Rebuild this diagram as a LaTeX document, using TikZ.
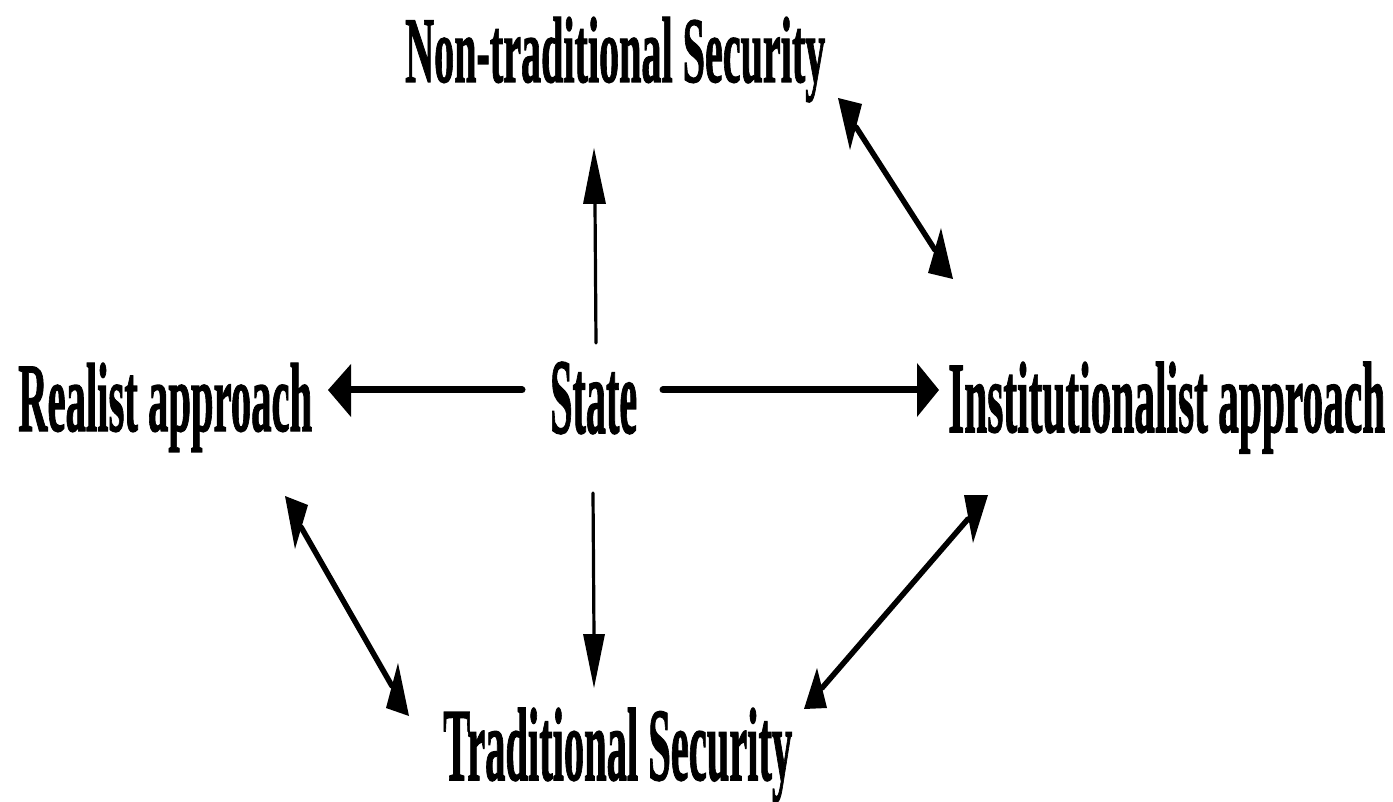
\documentclass[tikz,border=0pt]{standalone}
\usepackage{fontspec}
\setmainfont{Liberation Serif}
\newfontfamily\heavyserif[FakeBold=1.5]{Liberation Serif Bold}
\usepackage{graphicx}
\begin{document}
\begin{tikzpicture}[x=1pt,y=-1pt,
  lbl/.style={anchor=base west,inner sep=0pt,font=\heavyserif},
  thinline/.style={line width=3.2pt,line cap=round},
  thickline/.style={line width=7pt,line cap=round},
  diagline/.style={line width=5.5pt,line cap=round},
  head/.style={fill=black,draw=none}]
\useasboundingbox (0,0) rectangle (1393,802);
% labels
\node[lbl] (nts) at (405,82) {\resizebox{420pt}{65pt}{Non-traditional Security}};
\node[lbl] (real) at (18,431) {\resizebox{294pt}{68pt}{Realist approach}};
\node[lbl] (state) at (550,433) {\resizebox{87pt}{71pt}{State}};
\node[lbl] (inst) at (948,432) {\resizebox{437pt}{70pt}{Institutionalist approach}};
\node[lbl] (ts) at (443,780) {\resizebox{349pt}{72pt}{Traditional Security}};
% connector end points
\coordinate (su) at (596,343);  \coordinate (nu) at (595,204);
\coordinate (sd) at (593,493);  \coordinate (td) at (594,636);
\coordinate (sl) at (522,390);  \coordinate (rl) at (349,390);
\coordinate (sr) at (663,390);  \coordinate (ir) at (918,390);
\coordinate (n1) at (856,127);  \coordinate (i1) at (935,250);
\coordinate (r2) at (301,527);  \coordinate (t2) at (392,686);
\coordinate (i3) at (968,519);  \coordinate (t3) at (822,688);
% shafts
\draw[thinline] (su) -- (nu);
\draw[thinline] (sd) -- (td);
\draw[thickline] (sl) -- (rl);
\draw[thickline] (sr) -- (ir);
\draw[diagline] (n1) -- (i1);
\draw[diagline] (r2) -- (t2);
\draw[diagline] (i3) -- (t3);
% heads
\fill[head] (594,148) -- (583,204) -- (606,204) -- cycle;
\fill[head] (583,634) -- (605,634) -- (594,688) -- cycle;
\fill[head] (328,390) -- (351,364) -- (351,417) -- cycle;
\fill[head] (939,390) -- (917,363) -- (917,417) -- cycle;
\fill[head] (838,98) -- (862,104) -- (850,150) -- cycle;
\fill[head] (953,279) -- (928,273) -- (941,228) -- cycle;
\fill[head] (285,496) -- (308,505) -- (295,549) -- cycle;
\fill[head] (409,716) -- (386,708) -- (398,663) -- cycle;
\fill[head] (988,495) -- (964,495) -- (973,543) -- cycle;
\fill[head] (804,709) -- (827,708) -- (817,668) -- cycle;
\end{tikzpicture}
\end{document}
